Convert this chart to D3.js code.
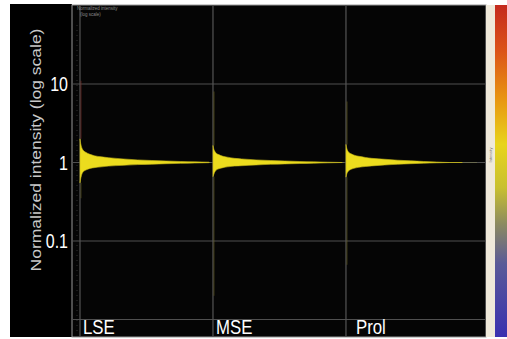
<!DOCTYPE html>
<html>
<head>
<meta charset="utf-8">
<script src="https://cdn.jsdelivr.net/npm/d3@7"></script>
<style>
  body { margin: 0; background: #fff; }
  svg { display: block; font-family: "Liberation Sans", Arial, sans-serif; }
</style>
</head>
<body>
<div id="chart"></div>
<script>
// ---------------- data ----------------
const groups = ["LSE", "MSE", "Prol"];
const tickValues = [10, 1, 0.1];
const tickLabels = ["10", "1", "0.1"];
const gridValues = [10, 1, 0.1, 0.01];

// position inside each group (0..1) where the envelope was read
const envPos = [0, 0.005, 0.01, 0.02, 0.04, 0.07, 0.1, 0.15, 0.2, 0.3, 0.4, 0.5, 0.6, 0.7, 0.8, 0.9];
const lseUpper  = [2.0, 1.75, 1.6, 1.45, 1.35, 1.27, 1.22, 1.18, 1.15, 1.11, 1.08, 1.06, 1.045, 1.03, 1.02, 1.01];
const lseLower  = [0.55, 0.62, 0.68, 0.75, 0.8, 0.84, 0.86, 0.88, 0.9, 0.92, 0.94, 0.95, 0.965, 0.975, 0.985, 0.995];
const mseUpper  = [1.65, 1.5, 1.42, 1.33, 1.26, 1.2, 1.17, 1.13, 1.11, 1.08, 1.06, 1.045, 1.03, 1.02, 1.01, 1.0];
const mseLower  = [0.66, 0.7, 0.74, 0.79, 0.83, 0.86, 0.88, 0.9, 0.91, 0.93, 0.95, 0.96, 0.97, 0.98, 0.99, 1.0];
const prolUpper = [1.7, 1.55, 1.45, 1.36, 1.29, 1.23, 1.2, 1.16, 1.13, 1.1, 1.07, 1.05, 1.03, 1.015, 1.0, 1.0];
const prolLower = [0.65, 0.7, 0.74, 0.78, 0.82, 0.85, 0.87, 0.89, 0.905, 0.93, 0.95, 0.965, 0.98, 0.99, 1.0, 1.0];
const spikeMax = [11, 8, 6];
const spikeMin = [0.35, 0.02, 0.05];
const bands = [[lseUpper, lseLower], [mseUpper, mseLower], [prolUpper, prolLower]];

//-----------------------------------------------------------------
const W = 507, H = 339;
const plot = {left: 72, right: 486, top: 5, bottom: 337};
const narrow = 0.8; // the figure uses a condensed sans

const svg = d3.select("#chart").append("svg")
    .attr("width", W).attr("height", H);

// black panel on the left holding the axis text
svg.append("rect").attr("x", 10).attr("y", 4).attr("width", plot.left - 10).attr("height", plot.bottom - 4)
    .attr("fill", "#000");

// plot frame
svg.append("rect")
    .attr("x", plot.left).attr("y", plot.top)
    .attr("width", plot.right - plot.left).attr("height", plot.bottom - plot.top)
    .attr("fill", "#050505").attr("stroke", "#9a9a9a").attr("stroke-width", 1);

const x = d3.scaleLinear().domain([-0.06, 3.053]).range([plot.left, plot.right]);
const y = d3.scaleLog().domain([0.01, 100]).range([319.5, 5.5]);

// grid
svg.append("g").selectAll("line").data(gridValues).enter().append("line")
    .attr("x1", plot.left + 1).attr("x2", plot.right - 1)
    .attr("y1", d => y(d)).attr("y2", d => y(d))
    .attr("stroke", "#505050").attr("stroke-width", 1.2);

svg.append("g").selectAll("line").data(d3.range(groups.length)).enter().append("line")
    .attr("x1", d => x(d)).attr("x2", d => x(d))
    .attr("y1", plot.top + 1).attr("y2", plot.bottom - 1)
    .attr("stroke", "#555").attr("stroke-width", 1.2);

// faint dotted minor tick column
svg.append("line")
    .attr("x1", plot.left + 5).attr("x2", plot.left + 5)
    .attr("y1", plot.top + 20).attr("y2", plot.bottom - 5)
    .attr("stroke", "#333").attr("stroke-dasharray", "1,4");

// tiny header text inside the plot
svg.append("text").attr("x", plot.left + 5).attr("y", 10)
    .attr("font-size", 4.5).attr("fill", "#8a8a8a").text("Normalized intensity");
svg.append("text").attr("x", plot.left + 8).attr("y", 16)
    .attr("font-size", 4.5).attr("fill", "#8a8a8a").text("(log scale)");

// baseline at 1 over each group
svg.append("g").selectAll("line").data(d3.range(groups.length)).enter().append("line")
    .attr("x1", d => x(d)).attr("x2", d => x(d + 1) - 2)
    .attr("y1", y(1)).attr("y2", y(1))
    .attr("stroke", "#6a6a50").attr("stroke-width", 1.2);

// spikes
const spikes = svg.append("g");
bands.forEach((b, i) => {
    spikes.append("line")
        .attr("x1", x(i) + 1).attr("x2", x(i) + 1)
        .attr("y1", y(spikeMax[i])).attr("y2", y(b[0][0]))
        .attr("stroke", i === 0 ? "#7a2a22" : "#6a6220").attr("stroke-width", 1.4).attr("opacity", 0.45);
    spikes.append("line")
        .attr("x1", x(i) + 1).attr("x2", x(i) + 1)
        .attr("y1", y(b[1][0])).attr("y2", y(spikeMin[i]))
        .attr("stroke", "#6a6220").attr("stroke-width", 1.4).attr("opacity", 0.4);
});

// yellow bands
const area = d3.area()
    .x(d => x(d.p))
    .y0(d => y(d.lo))
    .y1(d => y(d.hi))
    .curve(d3.curveMonotoneX);

bands.forEach((b, i) => {
    const pts = envPos.map((p, k) => ({p: i + p * 1.08 * (i === 2 ? 0.9 : 1), hi: b[0][k], lo: b[1][k]}));
    svg.append("path").datum(pts)
        .attr("d", area)
        .attr("fill", "#ecdc1e")
        .attr("stroke", "#c8b818").attr("stroke-width", 0.6);
});

// group labels
svg.append("g").selectAll("text").data(groups).enter().append("text")
    .attr("transform", (d, i) => `translate(${x(i) + (i === 2 ? 10 : 3)},334) scale(${narrow},1)`)
    .attr("font-size", 21)
    .attr("fill", "#fff")
    .text(d => d);

// y tick labels
svg.append("g").selectAll("text").data(tickValues).enter().append("text")
    .attr("transform", d => `translate(68,${y(d)}) scale(${narrow},1)`)
    .attr("dy", "0.36em")
    .attr("text-anchor", "end")
    .attr("font-size", 20)
    .attr("fill", "#fff")
    .text((d, i) => tickLabels[i]);

// y axis title
svg.append("text")
    .attr("transform", `translate(36,150) rotate(-90) scale(1,${narrow})`)
    .attr("text-anchor", "middle")
    .attr("dy", "0.35em")
    .attr("font-size", 17.5)
    .attr("fill", "#c8c8c8")
    .text("Normalized intensity (log scale)");

// cream strip and colour bar
svg.append("rect").attr("x", plot.right).attr("y", plot.top).attr("width", 9).attr("height", plot.bottom - plot.top)
    .attr("fill", "#efe9da");
svg.append("text")
    .attr("transform", "translate(492,155) rotate(-90)")
    .attr("text-anchor", "middle").attr("font-size", 4).attr("fill", "#777").text("Intensity");

const grad = svg.append("defs").append("linearGradient")
    .attr("id", "cbar").attr("x1", 0).attr("y1", 0).attr("x2", 0).attr("y2", 1);
[[0, "#c42a1e"], [0.14, "#dc5418"], [0.28, "#e89412"], [0.42, "#e8d41c"], [0.55, "#c8c030"],
 [0.66, "#8c8a60"], [0.78, "#5a5a98"], [1, "#3a30b0"]].forEach(s =>
    grad.append("stop").attr("offset", s[0]).attr("stop-color", s[1]));
svg.append("rect").attr("x", 495).attr("y", plot.top).attr("width", 12).attr("height", plot.bottom - plot.top)
    .attr("fill", "url(#cbar)");
</script>
</body>
</html>
